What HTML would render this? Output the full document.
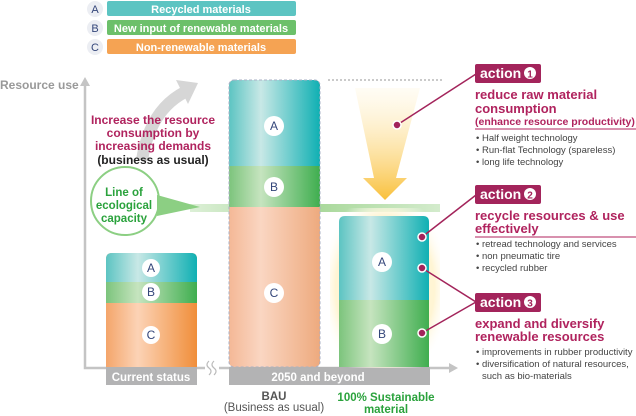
<!DOCTYPE html>
<html><head><meta charset="utf-8"><style>
body{margin:0;background:#fff}
svg{display:block;font-family:"Liberation Sans",sans-serif}
</style></head><body>
<svg width="636" height="416" viewBox="0 0 636 416" xmlns="http://www.w3.org/2000/svg">
<defs>
<linearGradient id="ga" x1="0" x2="1"><stop offset="0" stop-color="#5cc4c2"/><stop offset=".35" stop-color="#c8e8e6"/><stop offset="1" stop-color="#10b0b3"/></linearGradient>
<linearGradient id="gb" x1="0" x2="1"><stop offset="0" stop-color="#7cc47c"/><stop offset=".35" stop-color="#c6e4bf"/><stop offset="1" stop-color="#3fae4f"/></linearGradient>
<linearGradient id="gc" x1="0" x2="1"><stop offset="0" stop-color="#f4a56a"/><stop offset=".35" stop-color="#fcd3b6"/><stop offset="1" stop-color="#f08e3a"/></linearGradient>
<linearGradient id="gca" x1="0" x2="1"><stop offset="0" stop-color="#f4b896"/><stop offset=".35" stop-color="#fad6c2"/><stop offset="1" stop-color="#eeaa7e"/></linearGradient>
<linearGradient id="gy" x1="0" x2="0" y1="0" y2="1"><stop offset="0" stop-color="#fff6dc" stop-opacity=".3"/><stop offset="1" stop-color="#f9c03a"/></linearGradient>
<linearGradient id="gl" x1="0" x2="1"><stop offset="0" stop-color="#a8d89a" stop-opacity=".4"/><stop offset=".5" stop-color="#a8d89a"/><stop offset="1" stop-color="#a8d89a" stop-opacity=".5"/></linearGradient>
<radialGradient id="glow" cx=".5" cy=".5" r=".6"><stop offset=".75" stop-color="#fff5d4"/><stop offset="1" stop-color="#fff" stop-opacity="0"/></radialGradient>
</defs>
<g font-size="11" font-weight="bold" fill="#fff" text-anchor="middle">
<circle cx="95" cy="9" r="8" fill="#eceef3"/><text x="95" y="13" fill="#34467a" font-weight="normal">A</text>
<rect x="107" y="1" width="189" height="15" rx="2" fill="#5cc4c2"/><text x="201" y="13">Recycled materials</text>
<circle cx="95" cy="28" r="8" fill="#eceef3"/><text x="95" y="32" fill="#34467a" font-weight="normal">B</text>
<rect x="107" y="20" width="189" height="15" rx="2" fill="#6cc06a"/><text x="201" y="32">New input of renewable materials</text>
<circle cx="95" cy="47" r="8" fill="#eceef3"/><text x="95" y="51" fill="#34467a" font-weight="normal">C</text>
<rect x="107" y="39" width="189" height="15" rx="2" fill="#f5a353"/><text x="201" y="51">Non-renewable materials</text>
</g>
<text x="0" y="89" font-size="12" font-weight="bold" fill="#999">Resource use</text>
<path d="M85 82 V368 H450" fill="none" stroke="#c4c4c4" stroke-width="2.5"/>
<path d="M80 86 L85 77 L90 86Z M449 363 L458 368 L449 373Z" fill="#c4c4c4"/>
<path d="M142 160 Q150 110 185 92" fill="none" stroke="#d6d6d6" stroke-width="12"/>
<path d="M176 80 L198 83 L188 104Z" fill="#d6d6d6"/>
<rect x="190" y="204" width="250" height="8" fill="url(#gl)"/>
<circle cx="125" cy="201" r="34" fill="#fff" stroke="#8ccf83" stroke-width="2"/>
<path d="M157 195 L200 207 L157 216Z" fill="#8ccf83"/>
<g font-size="11.5" font-weight="bold" fill="#2aa23c" text-anchor="middle">
<text x="124" y="196">Line of</text><text x="124" y="209">ecological</text><text x="124" y="222">capacity</text></g>
<g font-size="12" font-weight="bold" text-anchor="middle" fill="#b0235e">
<text x="153" y="124">Increase the resource</text><text x="153" y="137">consumption by</text><text x="153" y="150">increasing demands</text>
<text x="153" y="164" fill="#222">(business as usual)</text></g>
<path d="M106 367 V259 Q106 253 112 253 H191 Q197 253 197 259 V367Z" fill="url(#gc)"/>
<path d="M106 282 V259 Q106 253 112 253 H191 Q197 253 197 259 V282Z" fill="url(#ga)"/>
<rect x="106" y="282" width="91" height="21" fill="url(#gb)"/>
<rect x="106" y="367" width="91" height="18" fill="#b3b3b4"/>
<text x="151" y="381" font-size="11.5" font-weight="bold" fill="#fff" text-anchor="middle">Current status</text>
<rect x="205" y="362" width="14" height="12" fill="#fff"/>
<path d="M209 361 q-4 4 0 7 q4 3 0 7 M214 361 q-4 4 0 7 q4 3 0 7" fill="none" stroke="#bbb" stroke-width="1.2"/>
<rect x="229" y="80" width="91" height="287" rx="5" fill="url(#gca)"/>
<path d="M229 166 V86 Q229 80 235 80 H314 Q320 80 320 86 V166Z" fill="url(#ga)"/>
<rect x="229" y="166" width="91" height="41" fill="url(#gb)"/>
<rect x="229" y="80" width="91" height="287" rx="5" fill="none" stroke="#a9b0c6" stroke-dasharray="3,2"/>
<rect x="229" y="367" width="201" height="18" fill="#b3b3b4"/>
<text x="318" y="381" font-size="11.5" font-weight="bold" fill="#fff" text-anchor="middle">2050 and beyond</text>
<line x1="328" y1="80" x2="442" y2="80" stroke="#aaa" stroke-dasharray="2,2" stroke-width="1.2"/>
<rect x="330" y="208" width="110" height="160" fill="url(#glow)"/>
<path d="M339 367 V222 Q339 216 345 216 H423 Q429 216 429 222 V367Z" fill="url(#ga)"/>
<rect x="339" y="300" width="90" height="67" fill="url(#gb)"/>
<path d="M355 88 L420 88 L396 178 L407 178 L385 200 L363 178 L374 178Z" fill="url(#gy)"/>
<g font-size="12" fill="#34467a" text-anchor="middle">
<circle cx="151" cy="268" r="9" fill="#fff"/><text x="151" y="272">A</text>
<circle cx="151" cy="292" r="9" fill="#fff"/><text x="151" y="296">B</text>
<circle cx="151" cy="335" r="9" fill="#fff"/><text x="151" y="339">C</text>
<circle cx="274" cy="126" r="10" fill="#fff"/><text x="274" y="130">A</text>
<circle cx="274" cy="187" r="10" fill="#fff"/><text x="274" y="191">B</text>
<circle cx="274" cy="293" r="10" fill="#fff"/><text x="274" y="297">C</text>
<circle cx="382" cy="262" r="10" fill="#fff"/><text x="382" y="266">A</text>
<circle cx="382" cy="334" r="10" fill="#fff"/><text x="382" y="338">B</text>
</g>
<g stroke="#a3245b" stroke-width="1.5" fill="none">
<path d="M397 125 L476 74"/><path d="M422 237 L476 195"/><path d="M422 268 L476 302 L422 333"/></g>
<g fill="#a3245b" stroke="#fff" stroke-width="1.5">
<circle cx="397" cy="125" r="4"/><circle cx="422" cy="237" r="4"/><circle cx="422" cy="268" r="4"/><circle cx="422" cy="333" r="4"/></g>
<g font-size="14" font-weight="bold">
<rect x="475" y="64" width="66" height="19" rx="2" fill="#a3245b"/><text x="480" y="78" fill="#fff">action</text><circle cx="530" cy="73" r="6" fill="#fff"/><text x="530" y="77.5" font-size="10" text-anchor="middle" fill="#a3245b">1</text>
<rect x="475" y="185" width="66" height="19" rx="2" fill="#a3245b"/><text x="480" y="199" fill="#fff">action</text><circle cx="530" cy="194" r="6" fill="#fff"/><text x="530" y="198.5" font-size="10" text-anchor="middle" fill="#a3245b">2</text>
<rect x="475" y="293" width="66" height="19" rx="2" fill="#a3245b"/><text x="480" y="307" fill="#fff">action</text><circle cx="530" cy="302" r="6" fill="#fff"/><text x="530" y="306.5" font-size="10" text-anchor="middle" fill="#a3245b">3</text>
</g>
<g fill="#b0235e" font-weight="bold">
<text x="475" y="99" font-size="13">reduce raw material</text>
<text x="475" y="113" font-size="13">consumption</text>
<text x="475" y="125" font-size="10.5">(enhance resource productivity)</text>
<text x="475" y="220" font-size="13">recycle resources &amp; use</text>
<text x="475" y="233" font-size="13">effectively</text>
<text x="475" y="328" font-size="13">expand and diversify</text>
<text x="475" y="341" font-size="13">renewable resources</text>
</g>
<g stroke="#b0235e" stroke-width="1"><line x1="475" y1="129" x2="636" y2="129"/><line x1="475" y1="237" x2="636" y2="237"/></g>
<g font-size="9.5" fill="#444">
<text x="476" y="141">• Half weight technology</text>
<text x="476" y="153">• Run-flat Technology (spareless)</text>
<text x="476" y="165">• long life technology</text>
<text x="476" y="247">• retread technology and services</text>
<text x="476" y="259">• non pneumatic tire</text>
<text x="476" y="271">• recycled rubber</text>
<text x="476" y="355">• improvements in rubber productivity</text>
<text x="476" y="367">• diversification of natural resources,</text>
<text x="482" y="379">such as bio-materials</text>
</g>
<g font-size="11.5" font-weight="bold" text-anchor="middle">
<text x="274" y="400" fill="#555">BAU</text><text x="274" y="411" fill="#555" font-weight="normal">(Business as usual)</text>
<text x="386" y="401" fill="#2aa23c">100% Sustainable</text><text x="386" y="413" fill="#2aa23c">material</text>
</g>
</svg>
</body></html>
